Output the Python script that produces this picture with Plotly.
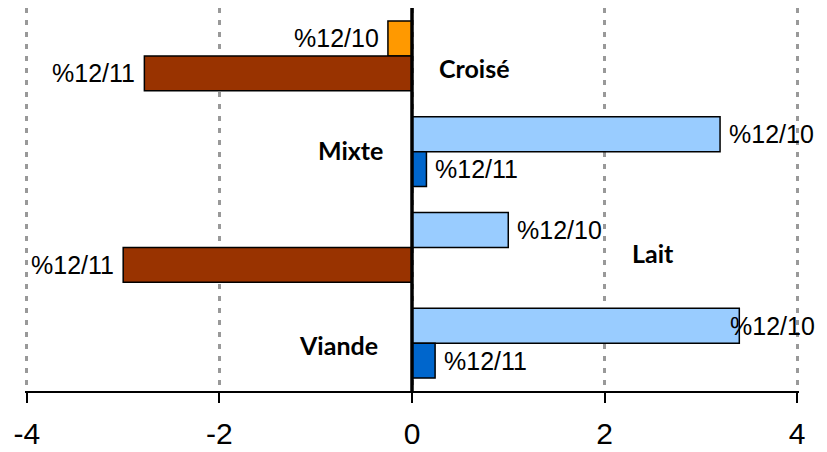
import plotly.graph_objects as go

# categories top to bottom
categories = ["Croisé", "Mixte", "Lait", "Viande"]
series_names = ["%12/10", "%12/11"]
values_1210 = [-0.25, 3.2, 1.0, 3.4]
values_1211 = [-2.78, 0.15, -3.0, 0.24]

tick_values = [-4, -2, 0, 2, 4]
tick_labels = ["-4", "-2", "0", "2", "4"]

# colours: (positive, negative)
colors_1210 = ("#99CCFF", "#FF9900")
colors_1211 = ("#0066CC", "#993300")

# where the category names sit (x in data units, y offset in band units)
cat_label_x = [0.65, -0.64, 2.5, -0.76]
cat_label_dy = [0.13, -0.02, 0.06, 0.02]

LABEL_FONT = dict(family="Liberation Sans, Arial", size=25, color="black")
BARGAP = 0.27

# the page has an 8px body margin, so the figure is drawn 8px in and down
PAGE_OFFSET = 8
# small range padding so the edge grid lines at -4 / 4 are still drawn
EDGE = 0.02


def bar_colors(values, pair):
    return [pair[0] if v >= 0 else pair[1] for v in values]


fig = go.Figure()

for name, vals, pair in [
    (series_names[0], values_1210, colors_1210),
    (series_names[1], values_1211, colors_1211),
]:
    fig.add_trace(
        go.Bar(
            y=categories,
            x=vals,
            name=name,
            orientation="h",
            marker=dict(color=bar_colors(vals, pair), line=dict(color="black", width=1.5)),
            showlegend=False,
        )
    )

# data labels next to each bar
px_per_unit = (797 - 27) / 8.0
pad = 7 / px_per_unit
right_limit = (813 - 87 - 410) / px_per_unit  # keep labels inside the page
half = (1 - BARGAP) / 4
annotations = []
for k, vals in enumerate([values_1210, values_1211]):
    for i, v in enumerate(vals):
        y = i - half if k == 0 else i + half
        if v >= 0:
            x = min(v + pad, right_limit)
            anchor = "left"
        else:
            x = v - pad
            anchor = "right"
        annotations.append(
            dict(x=x, y=y, xref="x", yref="y", text=series_names[k],
                 showarrow=False, xanchor=anchor, yanchor="middle", font=LABEL_FONT)
        )

for i, cat in enumerate(categories):
    annotations.append(
        dict(x=cat_label_x[i], y=i + cat_label_dy[i], xref="x", yref="y",
             text="<b>%s</b>" % cat, showarrow=False, xanchor="center", yanchor="middle",
             font=dict(family="Lato", size=25, color="black"))
    )

edge_px = EDGE * px_per_unit
fig.update_layout(
    width=827 - PAGE_OFFSET,
    height=452 - PAGE_OFFSET,
    margin=dict(l=27 - PAGE_OFFSET - edge_px, r=30 - edge_px, t=8 - PAGE_OFFSET, b=61,
                autoexpand=False),
    paper_bgcolor="white",
    plot_bgcolor="white",
    barmode="group",
    bargap=BARGAP,
    bargroupgap=0,
    annotations=annotations,
    shapes=[
        dict(type="line", xref="x", yref="paper", x0=0, x1=0, y0=0, y1=1,
             line=dict(color="black", width=3.5), layer="above")
    ],
)

fig.update_xaxes(
    range=[-4 - EDGE, 4 + EDGE],
    tickvals=tick_values,
    ticktext=tick_labels,
    automargin=False,
    showgrid=True,
    gridcolor="#999999",
    gridwidth=2.5,
    griddash="5px,7px",
    zeroline=False,
    showline=True,
    linecolor="black",
    linewidth=2,
    ticks="outside",
    ticklen=10,
    tickwidth=2,
    tickcolor="black",
    ticklabelstandoff=5,
    tickfont=dict(family="Liberation Sans, Arial", size=30, color="black"),
)
fig.update_yaxes(
    type="category",
    range=[3.5, -0.5],
    automargin=False,
    showticklabels=False,
    showgrid=False,
    zeroline=False,
    showline=False,
    ticks="",
)

fig.write_html("out.html")
